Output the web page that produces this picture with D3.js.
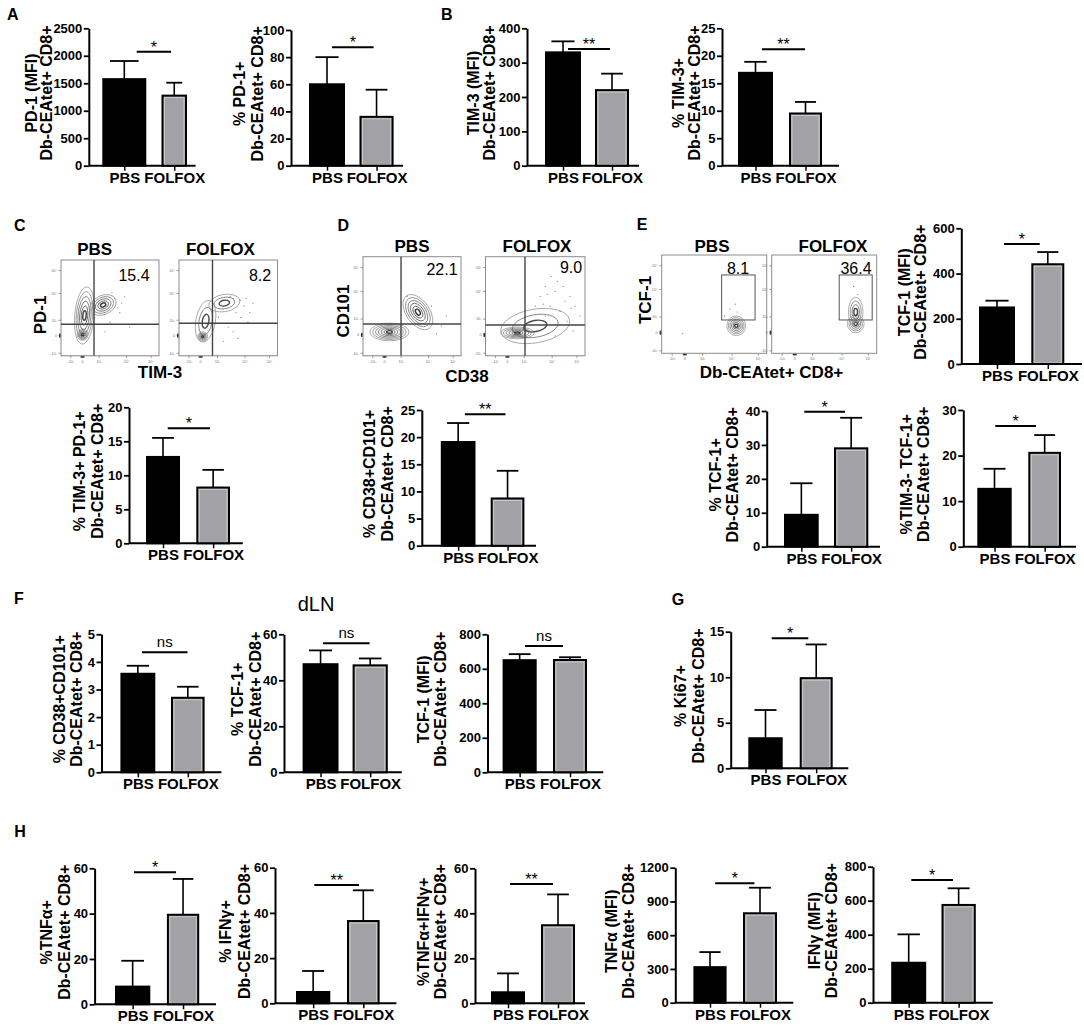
<!DOCTYPE html>
<html><head><meta charset="utf-8">
<script src="https://cdn.jsdelivr.net/npm/d3@7"></script>
<style>body{margin:0;background:#fff} svg{display:block} text{font-family:"Liberation Sans",Arial,sans-serif}</style>
</head><body><svg id="fig" width="1084" height="1028"></svg>
<script>
// ---------------- DATA ----------------
const groups = ["PBS", "FOLFOX"];
// A
const pd1MfiMean = [1575, 1275], pd1MfiUpper = [1905, 1510], pd1MfiTicks = [0, 500, 1000, 1500, 2000, 2500];
const pd1PctMean = [60, 36], pd1PctUpper = [80, 56], ticks100 = [0, 20, 40, 60, 80, 100];
// B
const tim3MfiMean = [330, 220], tim3MfiUpper = [362, 268], ticks400 = [0, 100, 200, 300, 400];
const tim3PctMean = [16.9, 9.5], tim3PctUpper = [18.9, 11.6], ticks25 = [0, 5, 10, 15, 20, 25];
// C
const tim3pd1Mean = [12.7, 8.2], tim3pd1Upper = [15.5, 10.8], ticks20 = [0, 5, 10, 15, 20];
// D
const cd38cd101Mean = [19.1, 8.7], cd38cd101Upper = [22.6, 13.8];
// E
const tcf1MfiMean = [250, 441], tcf1MfiUpper = [280, 495], ticks600 = [0, 200, 400, 600];
const tcf1PctMean = [9.4, 29], tcf1PctUpper = [18.7, 38], ticks40 = [0, 10, 20, 30, 40];
const tim3negTcf1Mean = [12.7, 20.6], tim3negTcf1Upper = [17.1, 24.5], ticks30 = [0, 10, 20, 30];
// F (dLN)
const dlnCd38Mean = [3.57, 2.7], dlnCd38Upper = [3.86, 3.1], ticks5 = [0, 1, 2, 3, 4, 5];
const dlnTcf1PctMean = [47, 46.5], dlnTcf1PctUpper = [53, 49.5], ticks60 = [0, 20, 40, 60];
const dlnTcf1MfiMean = [650, 651], dlnTcf1MfiUpper = [685, 667], ticks800 = [0, 200, 400, 600, 800];
// G
const ki67Mean = [3.3, 9.9], ki67Upper = [6.4, 13.6], ticks15 = [0, 5, 10, 15];
// H
const tnfPctMean = [7.8, 39.5], tnfPctUpper = [19.2, 55.3];
const ifnPctMean = [5, 36.4], ifnPctUpper = [14.3, 50];
const dblPctMean = [4.9, 34.7], dblPctUpper = [13.3, 48.4];
const tnfMfiMean = [316, 795], tnfMfiUpper = [450, 1022], ticks1200 = [0, 300, 600, 900, 1200];
const ifnMfiMean = [235, 575], ifnMfiUpper = [402, 673];
// flow plot gate percentages
const flowPctC = ["15.4", "8.2"], flowPctD = ["22.1", "9.0"], flowPctE = ["8.1", "36.4"];
const flowTickLabels = ["-10³", "0", "10³", "10⁴", "10⁵"];

// ---------------- DRAW ----------------
const svg = d3.select("#fig");
svg.append("rect").attr("width", 1084).attr("height", 1028).attr("fill", "#fff");
const FONT = '"Liberation Sans", Arial, sans-serif';

function txt(x, y, s, size, weight, anchor, rot) {
  const t = svg.append("text").attr("font-size", size).attr("font-weight", weight || "normal")
    .attr("text-anchor", anchor || "start").attr("fill", "#000").attr("font-family", FONT).text(s);
  if (rot) t.attr("transform", `translate(${x},${y}) rotate(${rot})`).attr("dy", "0.35em");
  else t.attr("x", x).attr("y", y);
  return t;
}

const charts = [
  {mean: pd1MfiMean, upper: pd1MfiUpper, ticks: pd1MfiTicks, title: ["PD-1 (MFI)", "Db-CEAtet+ CD8+"], sig: "*",
   ax: 88.8, end: 195.6, top: 28.3, base: 165.7, pbs: [103.3, 145.3], fol: [162.5, 186], sigX: [136.7, 171.1], sigY: 51.7, lx: [31, 46.5]},
  {mean: pd1PctMean, upper: pd1PctUpper, ticks: ticks100, title: ["% PD-1+", "Db-CEAtet+ CD8+"], sig: "*",
   ax: 291, end: 403, top: 30, base: 165.7, pbs: [310, 344], fol: [360.5, 392.6], sigX: [332, 373.6], sigY: 47.3, lx: [239, 257]},
  {mean: tim3MfiMean, upper: tim3MfiUpper, ticks: ticks400, title: ["TIM-3 (MFI)", "Db-CEAtet+ CD8+"], sig: "**",
   ax: 527, end: 639, top: 28.3, base: 165.7, pbs: [546, 580], fol: [596, 628], sigX: [568, 610], sigY: 49, lx: [473, 489]},
  {mean: tim3PctMean, upper: tim3PctUpper, ticks: ticks25, title: ["% TIM-3+", "Db-CEAtet+ CD8+"], sig: "**",
   ax: 722, end: 839, top: 28.3, base: 165.7, pbs: [739, 772], fol: [790, 821], sigX: [762, 805], sigY: 49.3, lx: [678, 694]},
  {mean: tim3pd1Mean, upper: tim3pd1Upper, ticks: ticks20, title: ["% TIM-3+ PD-1+", "Db-CEAtet+ CD8+"], sig: "*",
   ax: 129, end: 242.8, top: 407.3, base: 543.3, pbs: [147, 179], fol: [197.3, 229], sigX: [167.7, 210], sigY: 428.3, lx: [79, 97]},
  {mean: cd38cd101Mean, upper: cd38cd101Upper, ticks: ticks25, title: ["% CD38+CD101+", "Db-CEAtet+ CD8+"], sig: "**",
   ax: 421.8, end: 536, top: 410, base: 545.7, pbs: [441.8, 474.5], fol: [491.7, 523.4], sigX: [464.9, 505.5], sigY: 414.3, lx: [369, 387]},
  {mean: tcf1MfiMean, upper: tcf1MfiUpper, ticks: ticks600, title: ["TCF-1 (MFI)", "Db-CEAtet+ CD8+"], sig: "*",
   ax: 961.3, end: 1082, top: 228.3, base: 364, pbs: [980, 1014], fol: [1032.3, 1063.3], sigX: [1004, 1039.7], sigY: 244, lx: [904, 920.7]},
  {mean: tcf1PctMean, upper: tcf1PctUpper, ticks: ticks40, title: ["% TCF-1+", "Db-CEAtet+ CD8+"], sig: "*",
   ax: 766.7, end: 880, top: 411, base: 546.7, pbs: [785, 817.7], fol: [835, 867.3], sigX: [804.3, 845], sigY: 411.7, lx: [715, 732.7]},
  {mean: tim3negTcf1Mean, upper: tim3negTcf1Upper, ticks: ticks30, title: ["%TIM-3- TCF-1+", "Db-CEAtet+ CD8+"], sig: "*",
   ax: 963.3, end: 1076, top: 410, base: 546.7, pbs: [978.3, 1010.7], fol: [1029.3, 1060], sigX: [995.3, 1036], sigY: 426, lx: [906.7, 923.3]},
  {mean: dlnCd38Mean, upper: dlnCd38Upper, ticks: ticks5, title: ["% CD38+CD101+", "Db-CEAtet+ CD8+"], sig: "ns",
   ax: 101.5, end: 221.4, top: 634.3, base: 772.3, pbs: [121.4, 154.3], fol: [172, 203.6], sigX: [142, 187.5], sigY: 652.3, lx: [59, 76.8]},
  {mean: dlnTcf1PctMean, upper: dlnTcf1PctUpper, ticks: ticks60, title: ["% TCF-1+", "Db-CEAtet+ CD8+"], sig: "ns",
   ax: 284, end: 401.8, top: 634.3, base: 772.3, pbs: [303.6, 337.5], fol: [353.6, 386.8], sigX: [323, 369.6], sigY: 643.3, lx: [237.5, 255.4]},
  {mean: dlnTcf1MfiMean, upper: dlnTcf1MfiUpper, ticks: ticks800, title: ["TCF-1  (MFI)", "Db-CEAtet+ CD8+"], sig: "ns",
   ax: 487.5, end: 603.3, top: 634.3, base: 772.3, pbs: [503.6, 535.7], fol: [554, 586], sigX: [525, 563], sigY: 646, lx: [423, 440]},
  {mean: ki67Mean, upper: ki67Upper, ticks: ticks15, title: ["% Ki67+", "Db-CEAtet+ CD8+"], sig: "*",
   ax: 730.7, end: 848.3, top: 631.7, base: 768.3, pbs: [749.3, 781.7], fol: [800.7, 831.7], sigX: [771.7, 808.3], sigY: 638.3, lx: [680, 698.3]},
  {mean: tnfPctMean, upper: tnfPctUpper, ticks: ticks60, title: ["%TNFα+", "Db-CEAtet+ CD8+"], sig: "*",
   ax: 94.6, end: 216, top: 868.3, base: 1004.3, pbs: [116, 149.3], fol: [167.9, 198.2], sigX: [134, 176], sigY: 872.3, lx: [46.4, 64.3]},
  {mean: ifnPctMean, upper: ifnPctUpper, ticks: ticks60, title: ["% IFNγ+", "Db-CEAtet+ CD8+"], sig: "**",
   ax: 275, end: 396.4, top: 867.7, base: 1003.3, pbs: [297, 329.3], fol: [348, 378.6], sigX: [314.3, 359], sigY: 885, lx: [225, 244]},
  {mean: dblPctMean, upper: dblPctUpper, ticks: ticks60, title: ["%TNFα+IFNγ+", "Db-CEAtet+ CD8+"], sig: "**",
   ax: 475, end: 585, top: 868.3, base: 1003.3, pbs: [492, 524], fol: [542, 574], sigX: [510, 553], sigY: 884, lx: [423, 440]},
  {mean: tnfMfiMean, upper: tnfMfiUpper, ticks: ticks1200, title: ["TNFα (MFI)", "Db-CEAtet+ CD8+"], sig: "*",
   ax: 675.3, end: 793.3, top: 867.7, base: 1002.7, pbs: [694.4, 725.6], fol: [744, 776], sigX: [715.2, 754.4], sigY: 883.3, lx: [611, 628.5]},
  {mean: ifnMfiMean, upper: ifnMfiUpper, ticks: ticks800, title: ["IFNγ (MFI)", "Db-CEAtet+ CD8+"], sig: "*",
   ax: 873, end: 992.8, top: 866.7, base: 1002.7, pbs: [892.2, 925.2], fol: [942.5, 974.8], sigX: [911.3, 953], sigY: 880, lx: [814, 831.5]}
];

function barChart(c) {
  const g = svg.append("g");
  const y = d3.scaleLinear().domain([0, d3.max(c.ticks)]).range([c.base, c.top]);
  const x = d3.scalePoint().domain(groups).range([(c.pbs[0] + c.pbs[1]) / 2, (c.fol[0] + c.fol[1]) / 2]);
  const widths = [c.pbs[1] - c.pbs[0], c.fol[1] - c.fol[0]];
  // error bars (upper only)
  groups.forEach((name, i) => {
    const cx = x(name), w = widths[i];
    g.append("line").attr("x1", cx).attr("x2", cx).attr("y1", y(c.mean[i])).attr("y2", y(c.upper[i]))
      .attr("stroke", "#000").attr("stroke-width", 1.6);
    g.append("line").attr("x1", cx - w * 0.34).attr("x2", cx + w * 0.34).attr("y1", y(c.upper[i])).attr("y2", y(c.upper[i]))
      .attr("stroke", "#000").attr("stroke-width", 1.8);
  });
  // bars
  g.selectAll("rect.bar").data(groups).join("rect").attr("class", "bar")
    .attr("x", (d, i) => x(d) - widths[i] / 2).attr("y", (d, i) => y(c.mean[i]))
    .attr("width", (d, i) => widths[i]).attr("height", (d, i) => y(0) - y(c.mean[i]))
    .attr("fill", (d, i) => i ? "#a2a2a6" : "#000").attr("stroke", "#000").attr("stroke-width", 2);
  g.append("rect").attr("x", x(groups[1]) - widths[1] / 2 + 2).attr("y", y(c.mean[1]) + 2)
    .attr("width", widths[1] - 4).attr("height", Math.max(0, y(0) - y(c.mean[1]) - 3))
    .attr("fill", "none").attr("stroke", "#d2d2d4").attr("stroke-width", 0.8);
  // y axis
  const ya = g.append("g").attr("transform", `translate(${c.ax},0)`)
    .call(d3.axisLeft(y).tickValues(c.ticks).tickFormat(d => String(d)).tickSize(5).tickSizeOuter(0).tickPadding(1.5));
  ya.select(".domain").attr("stroke", "#000").attr("stroke-width", 2);
  ya.selectAll(".tick line").attr("stroke", "#000").attr("stroke-width", 1.8);
  ya.selectAll("text").attr("font-size", 13).attr("font-weight", "bold").attr("fill", "#000").attr("font-family", FONT);
  // x axis
  const xa = g.append("g").attr("transform", `translate(0,${c.base})`)
    .call(d3.axisBottom(x).tickSize(5).tickSizeOuter(0).tickPadding(1.5));
  xa.select(".domain").remove();
  xa.append("line").attr("x1", c.ax).attr("x2", c.end).attr("y1", 0).attr("y2", 0).attr("stroke", "#000").attr("stroke-width", 2);
  xa.selectAll(".tick line").attr("stroke", "#000").attr("stroke-width", 1.5);
  xa.selectAll("text").attr("font-size", 15).attr("font-weight", "bold").attr("fill", "#000").attr("font-family", FONT);
  // y title (two lines)
  const ymid = (c.top + c.base) / 2 - 4;
  txt(c.lx[0], ymid, c.title[0], 16, "bold", "middle", -90);
  txt(c.lx[1], ymid, c.title[1], 16, "bold", "middle", -90);
  // significance
  g.append("line").attr("x1", c.sigX[0]).attr("x2", c.sigX[1]).attr("y1", c.sigY).attr("y2", c.sigY)
    .attr("stroke", "#000").attr("stroke-width", 2);
  const mx = (c.sigX[0] + c.sigX[1]) / 2;
  if (c.sig === "ns") txt(mx, c.sigY - 5, "ns", 15, "normal", "middle");
  else txt(mx, c.sigY + 1, c.sig, 16, "normal", "middle");
}
charts.forEach(barChart);

// ---------- flow plots ----------
const flows = [
  {id: "c1", x0: 61, x1: 159, y0: 260, y1: 355.7, vx: 0.337, hy: 0.328, pct: flowPctC[0], px: 134, py: 281,
   blobs: [{cx: .22, cy: .22, rx: .055, ry: .06, rings: 5, rot: 0}, {cx: .24, cy: .42, rx: .1, ry: .3, rings: 6, rot: 5}, {cx: .43, cy: .53, rx: .14, ry: .1, rings: 5, rot: -25}],
   dots: [[.55, .6], [.62, .55], [.6, .45], [.5, .35], [.45, .25], [.7, .3], [.65, .62], [.52, .66], [.58, .5]]},
  {id: "c2", x0: 179, x1: 277.5, y0: 260, y1: 355.7, vx: 0.34, hy: 0.339, pct: flowPctC[1], px: 260, py: 281,
   blobs: [{cx: .24, cy: .2, rx: .05, ry: .05, rings: 5}, {cx: .27, cy: .36, rx: .1, ry: .22, rings: 3, rot: 10}, {cx: .46, cy: .55, rx: .16, ry: .09, rings: 3, rot: -10}],
   dots: [[.55, .6], [.62, .58], [.66, .52], [.58, .45], [.5, .3], [.55, .25], [.7, .35], [.45, .15], [.6, .18], [.68, .6], [.72, .45], [.4, .4], [.63, .4], [.75, .55], [.52, .62]]},
  {id: "d1", x0: 363, x1: 461, y0: 256.7, y1: 355.7, vx: 0.388, hy: 0.32, pct: flowPctD[0], px: 442, py: 275,
   blobs: [{cx: .27, cy: .24, rx: .2, ry: .09, rings: 7}, {cx: .56, cy: .44, rx: .12, ry: .2, rings: 6, rot: -35}],
   dots: [[.8, .3], [.75, .22], [.45, .6], [.7, .5], [.85, .4]]},
  {id: "d2", x0: 485.5, x1: 585, y0: 256.7, y1: 355.7, vx: 0.397, hy: 0.31, pct: flowPctD[1], px: 571, py: 273,
   blobs: [{cx: .32, cy: .23, rx: .17, ry: .06, rings: 6}, {cx: .5, cy: .3, rx: .35, ry: .17, rings: 3, rot: -10}],
   dots: [[.55, .6], [.6, .7], [.7, .65], [.65, .5], [.75, .45], [.8, .55], [.85, .6], [.9, .5], [.72, .75], [.5, .5], [.6, .4], [.82, .35], [.88, .25], [.7, .2], [.95, .4], [.66, .8], [.58, .52], [.78, .7], [.62, .62], [.86, .48]]},
  {id: "e1", x0: 661.7, x1: 766.7, y0: 255, y1: 353.3, gate: [.571, .889, .339, .797], pct: flowPctE[0], px: 738, py: 274,
   blobs: [{cx: .71, cy: .28, rx: .09, ry: .1, rings: 6}],
   dots: [[.65, .45], [.72, .42], [.6, .38], [.7, .5], [.2, .2]]},
  {id: "e2", x0: 771.7, x1: 876.7, y0: 255, y1: 353.3, gate: [.643, .957, .339, .797], pct: flowPctE[1], px: 856, py: 274,
   blobs: [{cx: .8, cy: .3, rx: .08, ry: .09, rings: 5}, {cx: .8, cy: .42, rx: .07, ry: .15, rings: 4}],
   dots: [[.78, .68], [.82, .6]]}
];
const flowTickPos = [.025, .21, .37, .65, .89];
const flowTickPosX = [.1, .22, .39, .67, .92];

function flowPlot(f) {
  const g = svg.append("g");
  const x = d3.scaleLinear().domain([0, 1]).range([f.x0, f.x1]);
  const y = d3.scaleLinear().domain([0, 1]).range([f.y1, f.y0]);
  const cid = "clip-" + f.id;
  svg.append("clipPath").attr("id", cid).append("rect").attr("x", f.x0).attr("y", f.y0)
    .attr("width", f.x1 - f.x0).attr("height", f.y1 - f.y0);
  const inner = g.append("g").attr("clip-path", `url(#${cid})`);
  f.blobs.forEach(b => {
    d3.range(1, b.rings + 1).forEach(k => {
      const s = k / b.rings;
      inner.append("ellipse").attr("cx", x(b.cx)).attr("cy", y(b.cy))
        .attr("rx", (x(b.rx) - x(0)) * s).attr("ry", (y(0) - y(b.ry)) * s)
        .attr("transform", `rotate(${b.rot || 0},${x(b.cx)},${y(b.cy)})`)
        .attr("fill", "none").attr("stroke", d3.interpolateRgb("#222", "#9a9a9a")(s))
        .attr("stroke-width", k === 1 ? 1.4 : 0.8);
    });
  });
  inner.selectAll("circle").data(f.dots).join("circle").attr("cx", d => x(d[0])).attr("cy", d => y(d[1]))
    .attr("r", 0.6).attr("fill", "#777");
  g.append("rect").attr("x", f.x0).attr("y", f.y0).attr("width", f.x1 - f.x0).attr("height", f.y1 - f.y0)
    .attr("fill", "none").attr("stroke", "#8c8c8c").attr("stroke-width", 1);
  if (f.gate) {
    g.append("rect").attr("x", x(f.gate[0])).attr("y", y(f.gate[3])).attr("width", x(f.gate[1]) - x(f.gate[0]))
      .attr("height", y(f.gate[2]) - y(f.gate[3])).attr("fill", "none").attr("stroke", "#555").attr("stroke-width", 1);
  } else {
    g.append("line").attr("x1", x(f.vx)).attr("x2", x(f.vx)).attr("y1", f.y0).attr("y2", f.y1).attr("stroke", "#444").attr("stroke-width", 1.4);
    g.append("line").attr("x1", f.x0).attr("x2", f.x1).attr("y1", y(f.hy)).attr("y2", y(f.hy)).attr("stroke", "#444").attr("stroke-width", 1.4);
  }
  // tiny axis ticks
  flowTickPos.forEach((p, i) => {
    g.append("line").attr("x1", f.x0 - 2.5).attr("x2", f.x0).attr("y1", y(p)).attr("y2", y(p)).attr("stroke", "#777").attr("stroke-width", 0.7);
    g.append("text").attr("x", f.x0 - 4).attr("y", y(p) + 1.3).attr("font-size", 3.8).attr("text-anchor", "end")
      .attr("fill", "#777").attr("font-family", FONT).text(flowTickLabels[i]);
  });
  flowTickPosX.forEach((p, i) => {
    g.append("line").attr("x1", x(p)).attr("x2", x(p)).attr("y1", f.y1).attr("y2", f.y1 + 2.5).attr("stroke", "#777").attr("stroke-width", 0.7);
    g.append("text").attr("x", x(p)).attr("y", f.y1 + 7).attr("font-size", 3.8).attr("text-anchor", "middle")
      .attr("fill", "#777").attr("font-family", FONT).text(flowTickLabels[i]);
  });
  d3.range(0, 1.0001, 0.02).forEach(p => {
    g.append("line").attr("x1", x(p)).attr("x2", x(p)).attr("y1", f.y1).attr("y2", f.y1 + 1).attr("stroke", "#aaa").attr("stroke-width", 0.4);
  });
  g.append("rect").attr("x", x(flowTickPosX[1]) - 2).attr("y", f.y1 + 0.5).attr("width", 4).attr("height", 1.5).attr("fill", "#333");
  g.append("rect").attr("x", f.x0 - 2).attr("y", y(flowTickPos[1]) - 2).attr("width", 1.5).attr("height", 4).attr("fill", "#333");
  txt(f.px, f.py, f.pct, 16, "normal", "middle");
}
flows.forEach(flowPlot);

// flow titles & axis labels
txt(94.7, 255, "PBS", 17, "bold", "middle");
txt(220.4, 255, "FOLFOX", 17, "bold", "middle");
txt(40, 315, "PD-1", 17, "bold", "middle", -90);
txt(160, 378, "TIM-3", 17, "bold", "middle");
txt(412, 252, "PBS", 17, "bold", "middle");
txt(537, 252, "FOLFOX", 17, "bold", "middle");
txt(343, 311, "CD101", 17, "bold", "middle", -90);
txt(467, 381.5, "CD38", 17, "bold", "middle");
txt(712, 252, "PBS", 17, "bold", "middle");
txt(833, 252, "FOLFOX", 17, "bold", "middle");
txt(645, 300, "TCF-1", 17, "bold", "middle", -90);
txt(771.5, 378, "Db-CEAtet+ CD8+", 17, "bold", "middle");

// dLN header
txt(316, 611, "dLN", 20, "normal", "middle");

// panel letters
[["A", 7, 20], ["B", 441, 20], ["C", 14, 230.7], ["D", 337.5, 230.7], ["E", 636.7, 230], ["F", 14, 604], ["G", 671.7, 605], ["H", 14.3, 837]]
  .forEach(l => txt(l[1], l[2], l[0], 16, "bold", "start"));
</script></body></html>
